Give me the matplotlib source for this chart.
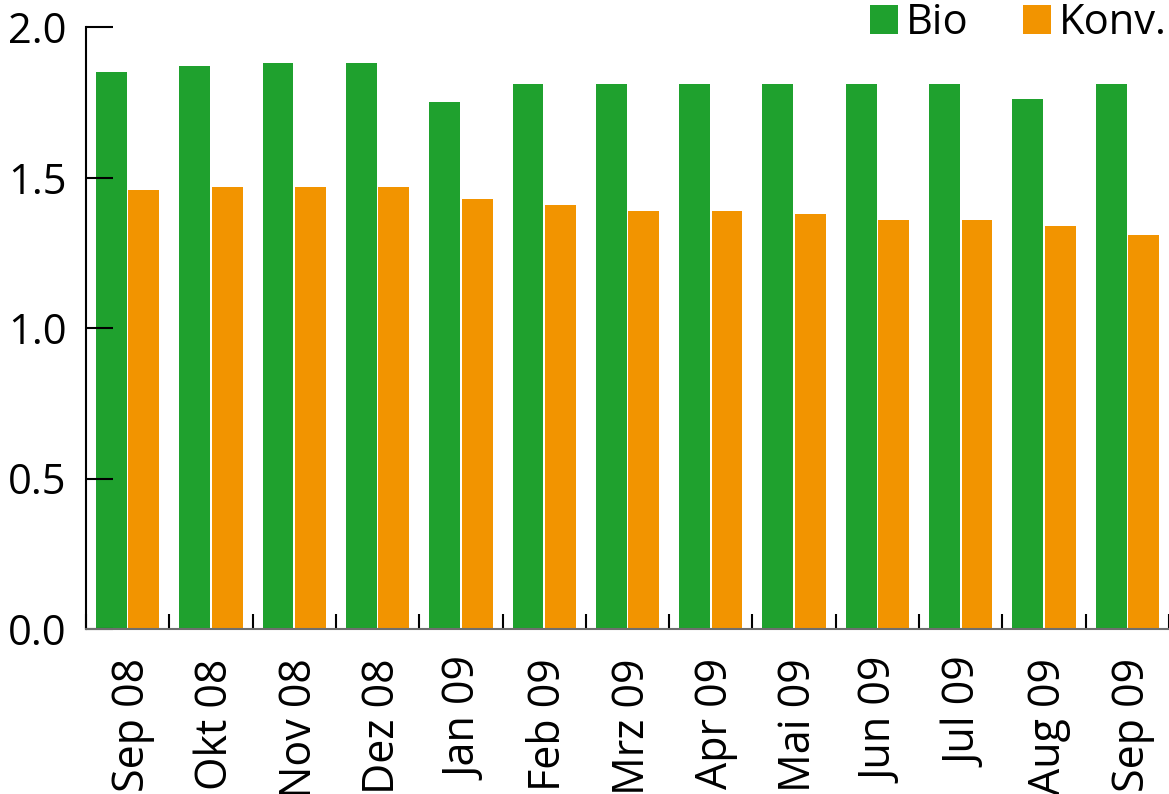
import numpy as np
import matplotlib.pyplot as plt
import matplotlib.transforms as mtransforms
from matplotlib.ticker import FixedLocator

plt.rcParams["font.family"] = ["Open Sans", "DejaVu Sans"]

months = ["Sep 08", "Okt 08", "Nov 08", "Dez 08", "Jan 09", "Feb 09", "Mrz 09",
          "Apr 09", "Mai 09", "Jun 09", "Jul 09", "Aug 09", "Sep 09"]
bio = [1.85, 1.87, 1.88, 1.88, 1.75, 1.81, 1.81, 1.81, 1.81, 1.81, 1.81, 1.76, 1.81]
konv = [1.46, 1.47, 1.47, 1.47, 1.43, 1.41, 1.39, 1.39, 1.38, 1.36, 1.36, 1.34, 1.31]

GREEN = "#1fa12e"
ORANGE = "#f29400"

W, H = 1169, 794
fig = plt.figure(figsize=(W / 100, H / 100), dpi=100)
ax = fig.add_axes([86 / W, (H - 629) / H, (W - 86) / W, (629 - 27) / H])

x = np.arange(len(months))
bw = 0.37
ax.bar(x - 0.195, bio, bw, color=GREEN, label="Bio")
ax.bar(x + 0.195, konv, bw, color=ORANGE, label="Konv.")

ax.set_xlim(-0.5, len(months) - 0.5)
ax.set_ylim(0, 2.0)

for s in ["top", "right"]:
    ax.spines[s].set_visible(False)
ax.spines["left"].set_linewidth(1.5)
ax.spines["left"].set_color("black")
ax.spines["bottom"].set_linewidth(1.5)
ax.spines["bottom"].set_color("#6e6e6e")

ax.set_yticks([0, 0.5, 1.0, 1.5, 2.0])
ax.set_yticklabels(["0.0", "0.5", "1.0", "1.5", "2.0"])
ax.tick_params(axis="y", direction="in", length=19.5, width=1.5, pad=14,
               labelsize=30, color="black")

ax.set_xticks(x)
ax.set_xticklabels(months, rotation=90, va="top", ha="center")
ax.tick_params(axis="x", which="major", length=0, pad=21, labelsize=31)
shift = mtransforms.ScaledTranslation(5 / 100, 0, fig.dpi_scale_trans)
for lbl in ax.get_xticklabels():
    lbl.set_transform(lbl.get_transform() + shift)
ax.xaxis.set_minor_locator(FixedLocator(np.arange(-0.5, len(months), 1.0)))
ax.tick_params(axis="x", which="minor", direction="in", length=11, width=1.5,
               color="black")

fig.legend(loc="upper right", bbox_to_anchor=(1.0, 1.0), ncol=2, frameon=False,
           fontsize=30, handlelength=0.67, handleheight=0.67, handletextpad=0.2,
           columnspacing=1.3, borderaxespad=0.0, borderpad=0.05)

fig.savefig("out.png", dpi=100)
